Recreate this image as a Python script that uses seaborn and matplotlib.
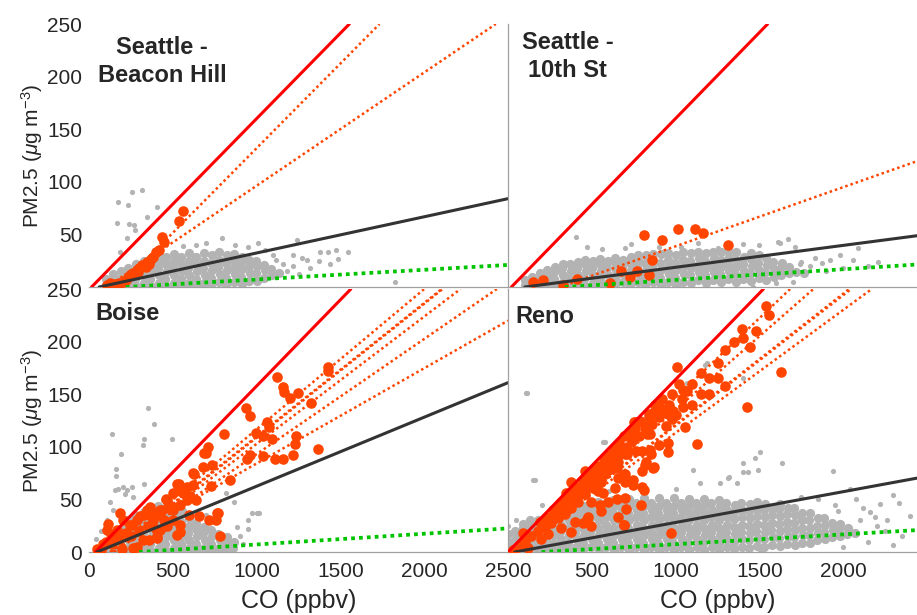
import matplotlib
matplotlib.use("Agg")
import pandas as pd
import matplotlib.pyplot as plt
import seaborn as sns

# ---------------- data (CO in ppbv, PM2.5 in ug m-3) ----------------
# dense grey clouds (all smoke-free observations)
tl_core = [
    (100, 2), (104, 8), (145, 5), (141, 12), (190, 1), (186, 8), (193, 15),
    (235, 4), (239, 11), (232, 18), (280, 1), (276, 8), (283, 15), (279, 22),
    (325, 4), (329, 11), (322, 18), (327, 25), (370, 1), (366, 8), (373, 15), (368, 22), (371, 28),
    (415, 4), (419, 11), (412, 18), (417, 25), (414, 30), (460, 1), (456, 8), (463, 15), (458, 22), (461, 29),
    (505, 4), (509, 11), (502, 18), (507, 25), (504, 31), (550, 1), (546, 8), (553, 15), (548, 22), (551, 29),
    (595, 4), (599, 11), (592, 18), (597, 25), (594, 32), (640, 1), (636, 8), (643, 15), (638, 22), (641, 29),
    (685, 4), (689, 11), (682, 18), (687, 25), (684, 32), (730, 2), (726, 9), (733, 16), (728, 23), (731, 30),
    (775, 5), (779, 12), (772, 19), (777, 26), (774, 33), (820, 2), (816, 9), (823, 16), (818, 23), (821, 30),
    (865, 5), (869, 12), (862, 19), (867, 26), (864, 31), (910, 3), (906, 10), (913, 17), (908, 24), (911, 29),
    (955, 6), (959, 13), (952, 20), (957, 26), (1000, 6), (996, 13), (1003, 20), (998, 25),
    (1045, 9), (1049, 16), (1042, 21), (1090, 11), (1086, 17), (1135, 13),
]
tr_core = [
    (100, 2), (104, 7), (145, 4), (141, 10), (190, 1), (186, 8), (193, 13),
    (235, 4), (239, 11), (232, 16), (280, 1), (276, 8), (283, 15), (279, 19),
    (325, 4), (329, 11), (322, 18), (327, 22), (370, 1), (366, 8), (373, 15), (368, 22),
    (415, 4), (419, 11), (412, 18), (417, 24), (460, 1), (456, 8), (463, 15), (458, 22), (461, 26),
    (505, 4), (509, 11), (502, 18), (507, 25), (550, 1), (546, 8), (553, 15), (548, 22), (551, 27),
    (595, 4), (599, 11), (592, 18), (597, 25), (640, 2), (636, 9), (643, 16), (638, 23), (641, 28),
    (685, 5), (689, 12), (682, 19), (687, 26), (730, 2), (726, 9), (733, 16), (728, 23), (731, 29),
    (775, 5), (779, 12), (772, 19), (777, 26), (774, 30), (820, 2), (816, 9), (823, 16), (818, 23), (821, 30),
    (865, 5), (869, 12), (862, 19), (867, 26), (864, 31), (910, 2), (906, 9), (913, 16), (908, 23), (911, 31),
    (955, 5), (959, 12), (952, 19), (957, 26), (954, 32), (1000, 2), (996, 9), (1003, 16), (998, 23), (1001, 30),
    (1045, 5), (1049, 12), (1042, 19), (1047, 26), (1044, 33), (1090, 4), (1086, 11), (1093, 18), (1088, 25), (1091, 32),
    (1135, 7), (1139, 14), (1132, 21), (1137, 28), (1134, 33), (1180, 4), (1176, 11), (1183, 18), (1178, 25), (1181, 32),
    (1225, 7), (1229, 14), (1222, 21), (1227, 28), (1224, 33), (1270, 5), (1266, 12), (1273, 19), (1268, 26), (1271, 33),
    (1315, 8), (1319, 15), (1312, 22), (1317, 29), (1314, 34), (1360, 5), (1356, 12), (1363, 19), (1358, 26), (1361, 33),
    (1405, 8), (1409, 15), (1402, 22), (1407, 29), (1450, 6), (1446, 13), (1453, 20), (1448, 27), (1451, 32),
    (1495, 9), (1499, 16), (1492, 23), (1497, 30), (1540, 7), (1536, 14), (1543, 21), (1538, 28),
    (1585, 10), (1589, 17), (1582, 24), (1630, 11), (1626, 18), (1633, 23), (1675, 13), (1679, 19),
    (1720, 14), (1765, 13),
]
bl_core = [
    (60, 2), (100, 2), (104, 8), (145, 4), (141, 11), (148, 17),
    (190, 1), (186, 8), (193, 15), (188, 22), (235, 4), (239, 11), (232, 18), (237, 25), (234, 30),
    (280, 1), (276, 8), (283, 15), (278, 22), (281, 29), (277, 35),
    (325, 4), (329, 11), (322, 18), (327, 25), (324, 32), (328, 38),
    (370, 1), (366, 8), (373, 15), (368, 22), (371, 29), (367, 36), (372, 41),
    (415, 4), (419, 11), (412, 18), (417, 25), (414, 32), (418, 39), (413, 44),
    (460, 1), (456, 8), (463, 15), (458, 22), (461, 29), (457, 36), (462, 43),
    (505, 4), (509, 11), (502, 18), (507, 25), (504, 32), (508, 39), (503, 43),
    (550, 1), (546, 8), (553, 15), (548, 22), (551, 29), (547, 36), (552, 39),
    (595, 4), (599, 11), (592, 18), (597, 25), (594, 32), (640, 1), (636, 8), (643, 15), (638, 22), (641, 28),
    (685, 4), (689, 11), (682, 18), (687, 24), (730, 1), (726, 8), (733, 15), (728, 21),
    (775, 4), (779, 11), (772, 17), (820, 2), (816, 9), (823, 14), (860, 4), (864, 10),
]
br_core = [
    (0, 3), (4, 10), (2, 17), (45, 6), (49, 13), (42, 20),
    (90, 2), (86, 9), (93, 16), (88, 23), (91, 27), (135, 5), (139, 12), (132, 19), (137, 26), (134, 30),
    (180, 2), (176, 9), (183, 16), (178, 23), (181, 30), (225, 5), (229, 12), (222, 19), (227, 26), (224, 33),
    (270, 2), (266, 9), (273, 16), (268, 23), (271, 30), (267, 37),
    (315, 5), (319, 12), (312, 19), (317, 26), (314, 33), (318, 39),
    (360, 2), (356, 9), (363, 16), (358, 23), (361, 30), (357, 37), (362, 42),
    (405, 5), (409, 12), (402, 19), (407, 26), (404, 33), (408, 40), (403, 44),
    (450, 2), (446, 9), (453, 16), (448, 23), (451, 30), (447, 37), (452, 44),
    (495, 5), (499, 12), (492, 19), (497, 26), (494, 33), (498, 40), (493, 46),
    (540, 2), (536, 9), (543, 16), (538, 23), (541, 30), (537, 37), (542, 44), (539, 48),
    (585, 5), (589, 12), (582, 19), (587, 26), (584, 33), (588, 40), (583, 47),
    (630, 2), (626, 9), (633, 16), (628, 23), (631, 30), (627, 37), (632, 44), (629, 49),
    (675, 5), (679, 12), (672, 19), (677, 26), (674, 33), (678, 40), (673, 47),
    (720, 2), (716, 9), (723, 16), (718, 23), (721, 30), (717, 37), (722, 44), (719, 50),
    (765, 5), (769, 12), (762, 19), (767, 26), (764, 33), (768, 40), (763, 47),
    (810, 2), (806, 9), (813, 16), (808, 23), (811, 30), (807, 37), (812, 44), (809, 51),
    (855, 5), (859, 12), (852, 19), (857, 26), (854, 33), (858, 40), (853, 47),
    (900, 2), (896, 9), (903, 16), (898, 23), (901, 30), (897, 37), (902, 44), (899, 51),
    (945, 5), (949, 12), (942, 19), (947, 26), (944, 33), (948, 40), (943, 47),
    (990, 2), (986, 9), (993, 16), (988, 23), (991, 30), (987, 37), (992, 44), (989, 51),
    (1035, 5), (1039, 12), (1032, 19), (1037, 26), (1034, 33), (1038, 40), (1033, 47),
    (1080, 2), (1076, 9), (1083, 16), (1078, 23), (1081, 30), (1077, 37), (1082, 44), (1079, 50),
    (1125, 5), (1129, 12), (1122, 19), (1127, 26), (1124, 33), (1128, 40), (1123, 47),
    (1170, 2), (1166, 9), (1173, 16), (1168, 23), (1171, 30), (1167, 37), (1172, 44), (1169, 50),
    (1215, 5), (1219, 12), (1212, 19), (1217, 26), (1214, 33), (1218, 40), (1213, 47),
    (1260, 2), (1256, 9), (1263, 16), (1258, 23), (1261, 30), (1257, 37), (1262, 44), (1259, 49),
    (1305, 5), (1309, 12), (1302, 19), (1307, 26), (1304, 33), (1308, 40), (1303, 47),
    (1350, 3), (1346, 10), (1353, 17), (1348, 24), (1351, 31), (1347, 38), (1352, 45),
    (1395, 5), (1399, 12), (1392, 19), (1397, 26), (1394, 33), (1398, 40), (1393, 47),
    (1440, 4), (1436, 11), (1443, 18), (1438, 25), (1441, 32), (1437, 39), (1442, 46),
    (1485, 6), (1489, 13), (1482, 20), (1487, 27), (1484, 34), (1488, 41), (1483, 48),
    (1530, 5), (1526, 12), (1533, 19), (1528, 26), (1531, 33), (1527, 40), (1532, 46),
    (1575, 7), (1579, 14), (1572, 21), (1577, 28), (1574, 35), (1578, 42),
    (1620, 6), (1616, 13), (1623, 20), (1618, 27), (1621, 34), (1617, 41), (1622, 46),
    (1665, 8), (1669, 15), (1662, 22), (1667, 29), (1664, 36), (1668, 42),
    (1710, 7), (1706, 14), (1713, 21), (1708, 28), (1711, 35), (1707, 42),
    (1755, 9), (1759, 16), (1752, 23), (1757, 30), (1754, 37), (1800, 9), (1796, 16), (1803, 23), (1798, 30), (1801, 37),
    (1845, 11), (1849, 18), (1842, 25), (1847, 32), (1890, 12), (1886, 19), (1893, 26), (1888, 32),
    (1935, 14), (1939, 21), (1932, 28), (1980, 15), (1976, 22), (1983, 27), (2025, 17), (2029, 23), (2070, 18),
]

# scattered grey points outside the clouds
tl_sparse = [
    (255, 90), (318, 92), (174, 81), (235, 78), (404, 76), (165, 61), (239, 60), (268, 59), (344, 67),
    (273, 54), (225, 47), (183, 33), (795, 47), (1010, 42), (1239, 45), (1217, 30), (1273, 28), (1300, 26),
    (1372, 25), (1378, 33), (1428, 33), (1472, 35), (1547, 33), (1487, 27), (1437, 22), (1219, 20), (1116, 26),
    (1160, 22), (1826, 5), (1180, 15), (1250, 12), (1320, 18), (1100, 30), (1050, 35), (950, 38), (870, 40),
    (640, 40), (700, 42), (560, 39),
]
tr_sparse = [
    (408, 48), (473, 38), (563, 36), (697, 37), (736, 41), (1034, 38), (1134, 42), (1253, 37), (1671, 46),
    (1621, 42), (1711, 38), (1920, 26), (2088, 37), (2208, 24), (1750, 24), (1830, 28), (2058, 26), (1872, 23),
    (1740, 22), (1462, 0), (1611, 43), (1500, 40), (1400, 41), (1300, 40), (900, 38), (1900, 15), (2000, 18),
    (2150, 20), (1980, 30), (1800, 20), (1700, 5), (1600, 4),
]
bl_sparse = [
    (354, 137), (388, 122), (135, 112), (189, 93), (330, 107), (322, 102), (493, 107), (161, 79), (161, 72),
    (205, 62), (225, 59), (155, 59), (328, 65), (264, 52), (125, 48), (145, 40), (215, 55), (817, 56),
    (885, 24), (950, 30), (1000, 37), (1014, 37), (950, 22), (443, 49), (865, 48), (974, 37), (175, 60),
    (259, 62), (900, 15), (920, 8), (700, 35), (40, 12), (70, 20), (110, 30),
]
br_sparse = [
    (115, 151), (577, 105), (149, 68), (1104, 78), (1173, 178), (1189, 180), (1066, 161), (1404, 165),
    (1504, 95), (1633, 85), (1404, 85), (1404, 76), (1941, 77), (1313, 70), (1364, 66), (1145, 66),
    (569, 105), (1429, 76), (1265, 66), (1320, 71), (2040, 60), (2299, 54), (2334, 47), (2220, 46),
    (2160, 38), (2398, 34), (2299, 7), (1504, 2), (2079, 50), (1970, 39), (2187, 33), (1472, 89),
    (1492, 78), (2100, 30), (2200, 25), (2250, 20), (2350, 15), (1950, 45), (1850, 50), (1750, 52),
    (1000, 60), (800, 60), (600, 58), (400, 52), (200, 45), (50, 30), (0, 25), (2000, 5), (2150, 10),
    (159, 68), (108, 151), (2260, 30), (2120, 42),
]

# smoke-impacted observations (orange)
tl_smoke = [
    (561, 72), (537, 63), (435, 48), (445, 43), (418, 35), (400, 33), (382, 29), (370, 27), (346, 24),
    (330, 20), (316, 21), (300, 18), (285, 16), (265, 13), (250, 12), (235, 10), (220, 7), (200, 5),
    (180, 4), (150, 3), (125, 4), (110, 2), (137, 2), (290, 14), (340, 19), (360, 22),
]
tr_smoke = [
    (149, 5), (209, 7), (328, 2), (412, 8), (606, 4), (672, 15), (726, 10), (770, 15), (839, 11),
    (861, 26), (812, 49), (921, 45), (1016, 55), (1113, 55), (1163, 51), (1310, 40),
]
bl_smoke = [
    (1120, 166), (1156, 157), (1165, 152), (1199, 146), (1245, 151), (1322, 142), (1424, 176), (1428, 172),
    (937, 137), (961, 129), (805, 112), (712, 100), (686, 94), (1060, 124), (1075, 119), (996, 113),
    (1039, 110), (1090, 107), (961, 92), (1040, 91), (944, 88), (1110, 88), (1159, 88), (1219, 92),
    (1235, 110), (1229, 103), (1368, 98), (841, 68), (726, 63), (772, 37), (718, 30), (781, 15), (756, 30),
    (766, 37), (656, 34), (597, 35), (543, 19), (527, 16), (543, 26), (622, 75), (626, 74), (736, 83),
    (696, 94), (682, 81), (523, 65), (537, 65), (503, 56), (543, 62), (563, 56), (583, 49), (583, 62),
    (602, 53), (636, 49), (622, 64), (463, 49), (457, 50), (424, 40), (437, 40), (404, 37), (344, 40),
    (364, 43), (304, 34), (328, 35), (285, 30), (245, 26), (259, 26), (205, 30), (185, 37), (165, 21),
    (115, 27), (109, 21), (130, 17), (85, 8), (46, 3), (70, 2), (139, 8), (265, 4), (199, 3), (288, 5),
    (324, 11), (358, 11), (404, 13), (408, 15), (424, 21), (503, 30), (384, 30), (463, 25), (378, 34),
    (140, 12), (100, 10), (220, 18), (300, 20), (350, 25), (250, 15), (180, 12), (400, 22), (450, 30),
    (500, 40), (480, 45), (540, 45),
]
br_smoke = [
    (1537, 234), (1394, 212), (1404, 203), (1444, 195), (1295, 192), (1010, 176), (1629, 171), (1295, 158),
    (1046, 154), (1070, 153), (1428, 138), (907, 137), (947, 132), (986, 134), (1046, 138), (843, 131),
    (870, 133), (977, 126), (758, 124), (837, 118), (827, 112), (850, 112), (1056, 119), (734, 108),
    (1126, 103), (903, 102), (847, 97), (956, 95), (798, 96), (708, 93), (823, 86), (867, 80), (798, 77),
    (638, 88), (648, 80), (698, 74), (608, 79), (579, 74), (748, 64), (800, 62), (915, 135), (955, 131),
    (752, 124), (825, 115), (726, 110), (766, 96), (855, 93), (955, 104), (869, 81), (811, 59), (696, 93),
    (656, 86), (597, 78), (656, 70), (696, 67), (557, 67), (517, 74), (461, 77), (617, 86), (507, 61),
    (567, 56), (636, 61), (696, 51), (650, 50), (597, 48), (547, 45), (497, 48), (457, 55), (418, 48),
    (378, 42), (338, 36), (298, 32), (258, 28), (219, 24), (179, 20), (139, 15), (99, 10), (60, 5),
    (30, 2), (477, 33), (692, 26), (656, 33), (795, 45), (557, 39), (398, 29), (318, 23), (239, 17),
    (378, 19), (497, 25), (450, 28), (199, 12), (119, 4), (80, 7), (348, 56), (398, 61), (457, 67),
    (746, 68), (815, 83), (378, 67), (318, 48), (278, 38), (228, 32), (537, 58), (189, 29), (89, 18),
    (690, 26), (706, 41), (473, 31), (975, 18),
    (250, 33), (270, 40), (300, 38), (310, 45), (340, 42), (350, 52), (370, 48), (390, 58), (410, 52),
    (420, 62), (440, 58), (450, 68), (470, 62), (480, 72), (500, 66), (510, 78), (530, 70), (540, 82),
    (560, 75), (570, 88), (590, 80), (600, 92), (620, 85), (630, 98), (650, 90), (660, 104), (680, 96),
    (690, 110), (710, 100), (720, 114), (740, 106), (760, 118), (780, 110), (790, 125), (820, 120),
    (840, 128), (860, 122), (880, 140), (900, 128), (920, 145), (940, 120), (960, 140), (980, 150),
    (1000, 130), (1020, 160), (1040, 145), (1100, 160), (1150, 170), (1200, 165), (1250, 180),
    (1350, 200), (1480, 210), (1560, 225), (1100, 140), (1150, 150), (1200, 150), (1250, 165),
]

# reference lines: (co, pm) end points
tl_red, tl_black, tl_green = [(15, 0), (1553, 250)], [(60, 0), (2500, 84)], [(219, 0), (2500, 21)]
tr_red, tr_black, tr_green = [(20, 0), (1549, 250)], [(100, 0), (2500, 50)], [(338, 0), (2500, 22)]
bl_red, bl_black, bl_green = [(38, 0), (1562, 250)], [(47, 0), (2500, 161)], [(298, 0), (2500, 22.5)]
br_red, br_black, br_green = [(0, 0), (1524, 250)], [(40, 0), (2500, 72)], [(200, 0), (2500, 21.4)]

# per-event fit lines (orange dotted)
tl_fits = [[(180, 0), (1733, 250)], [(106, 0), (2427, 250)]]
tr_fits = [[(310, 0), (2500, 123)]]
bl_fits = [[(125, 0), (2000, 250)], [(135, 0), (2104, 250)], [(145, 0), (2110, 250)],
           [(150, 0), (2216, 250)], [(150, 0), (2433, 250)], [(70, 0), (2500, 220)]]
br_fits = [[(30, 0), (1683, 250)], [(30, 0), (1822, 250)], [(28, 0), (2035, 250)],
           [(32, 0), (2047, 250)], [(30, 0), (2170, 250)]]

titles = ["Seattle -\nBeacon Hill", "Seattle -\n10th St", "Boise", "Reno"]
x_ticks = [0, 500, 1000, 1500, 2000, 2500]
y_ticks = [0, 50, 100, 150, 200, 250]

GRAY = "#b3b3b3"
ORANGE = "#ff4500"
RED = "#ff0000"
DARK = "#333333"
GREEN = "#00c400"
AXCOL = "#a0a0a0"
TXT = "#262626"

sns.set_style("white")
plt.rcParams["font.family"] = ["Liberation Sans", "DejaVu Sans"]
plt.rcParams["mathtext.fontset"] = "custom"
plt.rcParams["mathtext.rm"] = "Liberation Sans"
plt.rcParams["mathtext.it"] = "Liberation Sans:italic"


def to_df(points):
    return pd.DataFrame(points, columns=["co", "pm"])


def draw_panel(ax, core, sparse, smoke, red, black, green, fits):
    sns.scatterplot(data=to_df(core), x="co", y="pm", ax=ax, color=GRAY, s=44,
                    linewidth=0, zorder=2)
    sns.scatterplot(data=to_df(sparse), x="co", y="pm", ax=ax, color=GRAY, s=14,
                    linewidth=0, zorder=2)
    sns.scatterplot(data=to_df(smoke), x="co", y="pm", ax=ax, color=ORANGE, s=58,
                    linewidth=0, zorder=3)
    r = to_df(red)
    ax.plot(r.co, r.pm, color=RED, lw=2.2, zorder=4)
    for f in fits:
        d = to_df(f)
        ax.plot(d.co, d.pm, color=ORANGE, lw=1.8, dashes=(1, 1.2), zorder=4)
    b = to_df(black)
    ax.plot(b.co, b.pm, color=DARK, lw=2.2, zorder=5)
    g = to_df(green)
    ax.plot(g.co, g.pm, color=GREEN, lw=2.7, dashes=(1, 1.1), zorder=5)
    ax.set_xlim(0, 2500)
    ax.set_ylim(0, 250)
    ax.set_xticks(x_ticks)
    ax.set_yticks(y_ticks)
    ax.set_xlabel("")
    ax.set_ylabel("")
    for side in ["top", "right"]:
        ax.spines[side].set_visible(False)
    for side in ["left", "bottom"]:
        ax.spines[side].set_color(AXCOL)
        ax.spines[side].set_linewidth(0.9)
    ax.tick_params(direction="in", length=3.5, width=0.9, color=AXCOL,
                   labelcolor=TXT, labelsize=15)
    ax.tick_params(axis="x", pad=7)
    ax.tick_params(axis="y", pad=5)


fig = plt.figure(figsize=(9.17, 6.15), dpi=100)
W, H = 0.4569, 0.4276
ax_tl = fig.add_axes([0.0971, 0.5333, W, H])
ax_tr = fig.add_axes([0.5540, 0.5333, W, H])
ax_bl = fig.add_axes([0.0971, 0.1024, W, H])
ax_br = fig.add_axes([0.5540, 0.1024, W, H])

draw_panel(ax_tl, tl_core, tl_sparse, tl_smoke, tl_red, tl_black, tl_green, tl_fits)
draw_panel(ax_tr, tr_core, tr_sparse, tr_smoke, tr_red, tr_black, tr_green, tr_fits)
draw_panel(ax_bl, bl_core, bl_sparse, bl_smoke, bl_red, bl_black, bl_green, bl_fits)
draw_panel(ax_br, br_core, br_sparse, br_smoke, br_red, br_black, br_green, br_fits)

# left panels: no visible y axis line, labelled ticks
for ax in [ax_tl, ax_bl]:
    ax.spines["left"].set_visible(False)
    ax.set_ylabel(r"PM2.5 ($\mu$g m$^{-3}$)", fontsize=15, color=TXT, labelpad=1.5)
ax_tl.set_yticklabels([""] + [str(v) for v in y_ticks[1:]])
for ax in [ax_tr, ax_br]:
    ax.set_yticklabels([])
for ax in [ax_tl, ax_tr]:
    ax.set_xticklabels([])
ax_br.set_xticklabels([""] + [str(v) for v in x_ticks[1:-1]] + [""])
for ax in [ax_bl, ax_br]:
    ax.set_xlabel("CO (ppbv)", fontsize=18, color=TXT, labelpad=6)

ax_tl.text(0.174, 0.955, titles[0], transform=ax_tl.transAxes, ha="center", va="top",
           fontsize=17, fontweight="bold", linespacing=1.3)
ax_tr.text(0.143, 0.975, titles[1], transform=ax_tr.transAxes, ha="center", va="top",
           fontsize=17, fontweight="bold", linespacing=1.3)
ax_bl.text(0.014, 0.95, titles[2], transform=ax_bl.transAxes, ha="left", va="top",
           fontsize=17, fontweight="bold")
ax_br.text(0.017, 0.94, titles[3], transform=ax_br.transAxes, ha="left", va="top",
           fontsize=17, fontweight="bold")

fig.savefig("out.png", dpi=100)
